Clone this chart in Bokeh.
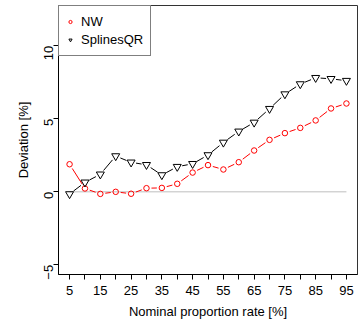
import math
from bokeh.plotting import figure
from bokeh.models import FixedTicker, Range1d, Legend, LegendItem, ColumnDataSource
from bokeh.embed import file_html
from bokeh.resources import INLINE

# ---- data ----
rates = [5, 10, 15, 20, 25, 30, 35, 40, 45, 50, 55, 60, 65, 70, 75, 80, 85, 90, 95]
nw = [1.89, 0.23, -0.14, 0.0, -0.13, 0.25, 0.27, 0.55, 1.32, 1.83, 1.53, 2.03,
      2.83, 3.56, 4.02, 4.38, 4.89, 5.71, 6.05]
splines_qr = [-0.15, 0.65, 1.2, 2.45, 2.02, 1.85, 1.15, 1.72, 1.92, 2.52, 3.38,
              4.14, 4.75, 5.69, 6.69, 7.38, 7.81, 7.74, 7.61]
x_ticks = rates
x_labels = {r: (str(r) if r % 10 == 5 else "") for r in rates}
y_ticks = [-5, 0, 5, 10]
series_names = ["NW", "SplinesQR"]

FONT = "Liberation Sans"
W, H = 363, 322
ML, MR, MT, MB = 58, 6, 5, 48
x_lo, x_hi = 1.4, 98.6
y_lo, y_hi = -5.66, 12.76

p = figure(width=W, height=H, output_backend="svg", toolbar_location=None,
           x_range=Range1d(x_lo, x_hi), y_range=Range1d(y_lo, y_hi),
           min_border_left=ML, min_border_right=MR, min_border_top=MT,
           min_border_bottom=MB)
p.xgrid.visible = False
p.ygrid.visible = False
p.outline_line_color = "#333333"
p.outline_line_width = 1

fw = W - ML - MR
fh = H - MT - MB
sx = fw / (x_hi - x_lo)
sy = fh / (y_hi - y_lo)


def gapped(xs, ys, gap=5.0):
    x0s, y0s, x1s, y1s = [], [], [], []
    for i in range(len(xs) - 1):
        dxp = (xs[i + 1] - xs[i]) * sx
        dyp = (ys[i + 1] - ys[i]) * sy
        L = math.hypot(dxp, dyp)
        if L <= 2 * gap:
            continue
        ux, uy = dxp / L, dyp / L
        x0s.append(xs[i] + gap * ux / sx)
        y0s.append(ys[i] + gap * uy / sy)
        x1s.append(xs[i + 1] - gap * ux / sx)
        y1s.append(ys[i + 1] - gap * uy / sy)
    return dict(x0=x0s, y0=y0s, x1=x1s, y1=y1s)


# zero reference line
p.segment(x0=[min(rates)], y0=[0], x1=[max(rates)], y1=[0],
          line_color="#BEBEBE", line_width=1)

p.segment(source=ColumnDataSource(gapped(rates, splines_qr)), x0="x0", y0="y0",
          x1="x1", y1="y1", line_color="black", line_width=1)
p.segment(source=ColumnDataSource(gapped(rates, nw)), x0="x0", y0="y0",
          x1="x1", y1="y1", line_color="red", line_width=1)

r_nw = p.scatter(rates, nw, marker="circle", size=5.5, fill_color=None,
                 line_color="red", line_width=1)
r_sq = p.scatter(rates, splines_qr, marker="inverted_triangle", size=8,
                 fill_color=None, line_color="black", line_width=1)

legend = Legend(items=[LegendItem(label=series_names[0], renderers=[r_nw]),
                       LegendItem(label=series_names[1], renderers=[r_sq])],
                location="top_left")
legend.margin = 0
legend.padding = 7
legend.spacing = 1
legend.glyph_width = 8
legend.glyph_height = 17
legend.label_height = 17
legend.label_standoff = 7
legend.label_text_font = FONT
legend.label_text_font_size = "13px"
legend.label_text_color = "black"
legend.border_line_color = "black"
legend.border_line_width = 1
legend.background_fill_alpha = 1
p.add_layout(legend)

for ax in (p.xaxis[0], p.yaxis[0]):
    ax.axis_line_color = "black"
    ax.major_tick_line_color = "black"
    ax.minor_tick_line_color = None
    ax.major_tick_out = 5
    ax.major_tick_in = 0
    ax.major_label_text_font = FONT
    ax.major_label_text_font_size = "13px"
    ax.major_label_text_color = "black"
    ax.axis_label_text_font = FONT
    ax.axis_label_text_font_size = "13px"
    ax.axis_label_text_font_style = "normal"
    ax.axis_label_text_color = "black"

p.xaxis.ticker = FixedTicker(ticks=x_ticks)
p.xaxis.major_label_overrides = x_labels
p.xaxis.axis_label = "Nominal proportion rate [%]"
p.xaxis.major_label_standoff = 6
p.xaxis.axis_label_standoff = 6

p.yaxis.ticker = FixedTicker(ticks=y_ticks)
p.yaxis.axis_label = "Deviation [%]"
p.yaxis.major_label_orientation = math.pi / 2
p.yaxis.major_label_standoff = 5
p.yaxis.axis_label_standoff = 6

open("out.html", "w").write(file_html(p, INLINE))
